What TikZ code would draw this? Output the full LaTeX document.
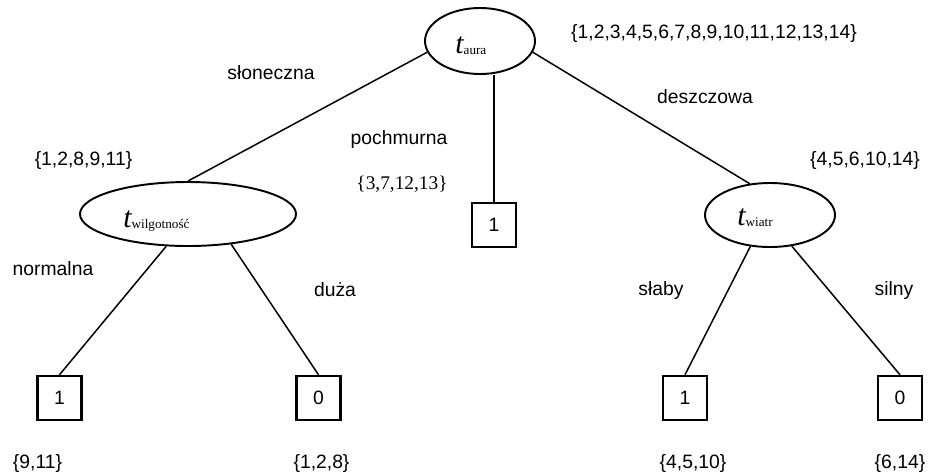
\documentclass[tikz,border=0pt]{standalone}
\usepackage{fontspec}
\setmainfont{Liberation Sans}
\newfontfamily\timesfont{Liberation Serif}
\usetikzlibrary{shapes}
\newcommand{\attr}[1]{{\timesfont\fontsize{17}{17}\selectfont\itshape t}\raisebox{-1pt}{\timesfont\fontsize{7.5}{8}\selectfont #1}}

\begin{document}
\begin{tikzpicture}[scale=0.2]
\tikzstyle{every node}+=[inner sep=0pt,font=\fontsize{11}{13}\selectfont]
\tikzstyle{attrnode}=[draw,ellipse,line width=1.1pt]
\tikzstyle{leaf}=[draw,line width=1.4pt,minimum width=0.88cm,minimum height=0.88cm]
\tikzstyle{edge}=[line width=0.85pt]
\useasboundingbox (0,0) rectangle (92.8,-47.5);
\node [attrnode,minimum width=2.2cm,minimum height=1.32cm] (aura) at (48,-4.1) {};
\node [anchor=base west] (auralbl) at (45.5,-5.3) {\attr{aura}};
\node [attrnode,minimum width=4.32cm,minimum height=1.28cm] (wilg) at (18.8,-21.4) {};
\node [anchor=base west] (wilglbl) at (12.3,-22.7) {\attr{wilgotność}};
\node [attrnode,minimum width=2.6cm,minimum height=1.28cm] (wiatr) at (77,-21.5) {};
\node [anchor=base west] (wiatrlbl) at (73.7,-22.5) {\attr{wiatr}};
\node [leaf] (pochm) at (49.4,-22.5) {1};
\node [leaf] (norm) at (5.95,-39.8) {1};
\node [leaf] (duza) at (31.85,-39.8) {0};
\node [leaf] (slaby) at (68.5,-39.8) {1};
\node [leaf] (silny) at (90,-39.8) {0};
\draw [edge] (aura.-168) -- (wilg.north);
\draw [edge] (aura.south -| pochm.north) -- (pochm.north);
\draw [edge] (aura.-12) -- (wiatr.123);
\draw [edge] (wilg.-124) -- (norm.north);
\draw [edge] (wilg.-35) -- (duza.north);
\draw [edge] (wiatr.-122) -- (slaby.north);
\draw [edge] (wiatr.-55) -- (silny.north);
\node (slonecznalbl) at (27.1,-7.3) {słoneczna};
\node (pochmurnalbl) at (39.9,-13.9) {pochmurna};
\node (deszczowalbl) at (70.5,-9.7) {deszczowa};
\node (setaura) at (71.4,-3.3) {\{1,2,3,4,5,6,7,8,9,10,11,12,13,14\}};
\node (setwilg) at (8.35,-16) {\{1,2,8,9,11\}};
\node (setpochm) at (40.2,-18.4) {\timesfont\{3,7,12,13\}};
\node (setwiatr) at (86.5,-16) {\{4,5,6,10,14\}};
\node (normalnalbl) at (5.3,-26.9) {normalna};
\node (duzalbl) at (33.5,-29) {duża};
\node (slabylbl) at (66.1,-29) {słaby};
\node (silnylbl) at (89.4,-29) {silny};
\node (setnorm) at (3.75,-46.3) {\{9,11\}};
\node (setduza) at (32.15,-46.3) {\{1,2,8\}};
\node (setslaby) at (69.3,-46.3) {\{4,5,10\}};
\node (setsilny) at (90,-46.3) {\{6,14\}};
\end{tikzpicture}
\end{document}
